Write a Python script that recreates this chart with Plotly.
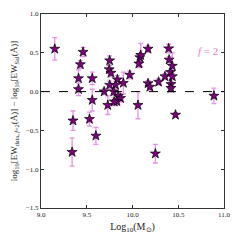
import plotly.graph_objects as go

log_mass = [9.15, 9.46, 9.43, 9.41, 9.41, 9.56, 9.56, 9.35, 9.34, 9.53, 9.60,
            9.69, 9.73, 9.75, 9.745, 9.765, 9.835, 9.90, 9.97, 9.75, 9.815, 9.795,
            9.845, 9.87, 9.83, 9.80, 10.07, 10.08, 10.09, 10.17, 10.06, 10.17, 10.19,
            10.285, 10.395, 10.40, 10.435, 10.415, 10.355, 10.435, 10.42, 10.42,
            10.47, 10.25, 10.89]
delta_ew = [0.55, 0.51, 0.35, 0.17, 0.03, 0.17, -0.11, -0.375, -0.78, -0.355, -0.57,
            0.0, -0.175, 0.40, 0.285, 0.24, 0.155, 0.11, 0.215, 0.085, 0.085, 0.0,
            -0.06, -0.085, -0.125, -0.13, 0.36, 0.44, 0.47, 0.55, -0.175, 0.105, 0.06,
            0.125, 0.555, 0.41, 0.33, 0.25, 0.195, 0.195, 0.095, 0.045,
            -0.30, -0.80, -0.055]
delta_err = [0.145, 0.06, 0.05, 0.11, 0.08, 0.08, 0.14, 0.125, 0.18, 0.09, 0.11,
             0.04, 0.12, 0.06, 0.05, 0.05, 0.05, 0.14, 0.05, 0.05, 0.05, 0.05,
             0.05, 0.05, 0.05, 0.05, 0.05, 0.05, 0.15, 0.04, 0.175, 0.04, 0.04,
             0.04, 0.055, 0.04, 0.17, 0.04, 0.04, 0.04, 0.04, 0.05,
             0.03, 0.12, 0.10]

x_ticks = [9.0, 9.5, 10.0, 10.5, 11.0]
y_ticks = [1.0, 0.5, 0.0, -0.5, -1.0, -1.5]
y_tick_text = ["1.0", "0.5", "0.0", "\u22120.5", "\u22121.0", "\u22121.5"]

font_family = "Liberation Serif"

fig = go.Figure()
fig.add_trace(go.Scatter(
    x=log_mass, y=delta_ew, mode="markers",
    marker=dict(symbol="star", size=7.5, color="#800080",
                line=dict(color="black", width=0.7)),
    error_y=dict(type="data", array=delta_err, visible=True,
                 color="rgba(220,120,220,0.8)", thickness=1.3, width=2.5),
    showlegend=False,
))

fig.add_hline(y=0, line=dict(color="black", width=1, dash="dash"))

fig.add_annotation(x=10.83, y=0.52, text="<i>f</i> = 2", showarrow=False,
                   font=dict(family=font_family, size=11, color="#f07cc8"),
                   xanchor="center", yanchor="middle")

axis_common = dict(showline=True, linecolor="#333", linewidth=1, mirror="ticks",
                   ticks="inside", ticklen=3, tickcolor="#333", showgrid=False,
                   zeroline=False, tickfont=dict(family=font_family, size=7, color="#222"))

fig.update_xaxes(range=[9.0, 11.0], tickvals=x_ticks,
                 ticktext=[f"{v:.1f}" for v in x_ticks],
                 title=dict(text="Log<sub>10</sub>(M<sub>\u2299</sub>)",
                            font=dict(family=font_family, size=10, color="#222"),
                            standoff=4),
                 **axis_common)
fig.update_yaxes(range=[-1.5, 1.0], tickvals=y_ticks, ticktext=y_tick_text,
                 title=dict(text="log<sub>10</sub>[EW<sub>data, <i>f</i>=2</sub>(\u00c5)] \u2212 log<sub>10</sub>[EW<sub>Sal</sub>(\u00c5)]",
                            font=dict(family=font_family, size=9, color="#222"),
                            standoff=6),
                 **axis_common)

fig.update_layout(width=240, height=240,
                  margin=dict(l=41, r=13, t=10, b=30),
                  plot_bgcolor="white", paper_bgcolor="white")

fig.write_html("out.html", config={"displayModeBar": False},
               post_script="document.body.style.margin='0';")
